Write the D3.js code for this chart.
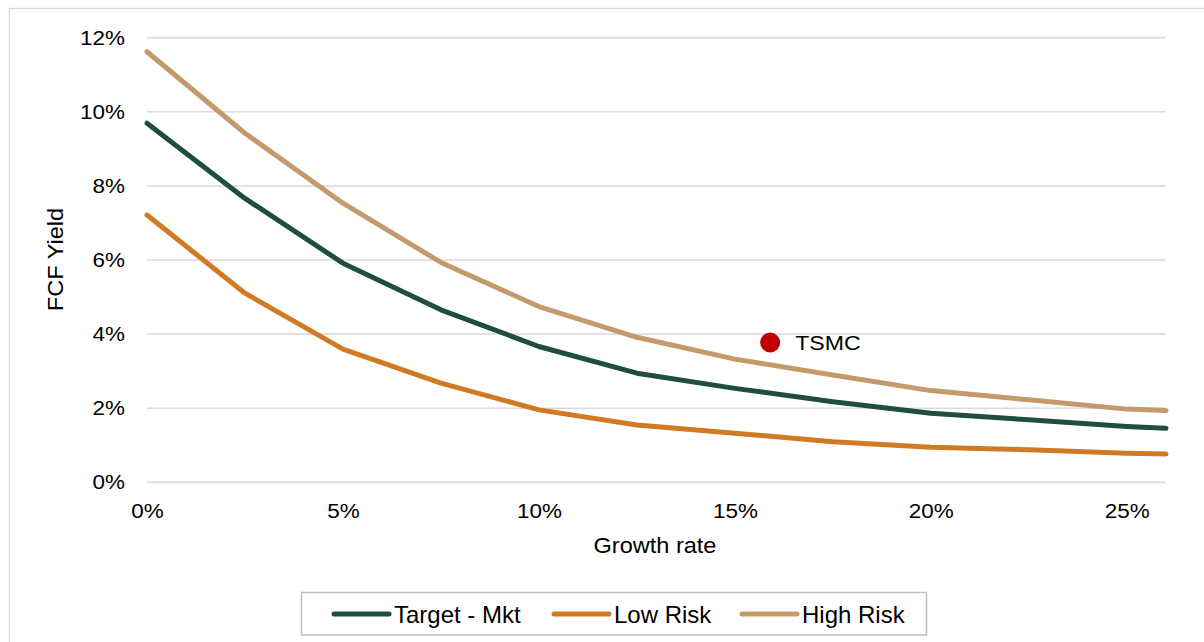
<!DOCTYPE html>
<html>
<head>
<meta charset="utf-8">
<script src="https://cdn.jsdelivr.net/npm/d3@7"></script>
<style>
  body { margin: 0; background: #fff; }
  svg { display: block; font-family: "Liberation Sans", Arial, sans-serif; }
</style>
</head>
<body>
<div id="wrapper"></div>
<script>
// growth rate (%) on x, FCF yield (%) on y
const growth = [0, 2.5, 5, 7.5, 10, 12.5, 15, 17.5, 20, 22.5, 25, 26];
const targetMkt = [9.68, 7.65, 5.90, 4.64, 3.65, 2.93, 2.52, 2.16, 1.85, 1.67, 1.49, 1.44];
const lowRisk = [7.20, 5.09, 3.58, 2.66, 1.94, 1.53, 1.31, 1.08, 0.93, 0.86, 0.77, 0.75];
const highRisk = [11.61, 9.41, 7.52, 5.92, 4.73, 3.90, 3.31, 2.88, 2.46, 2.21, 1.96, 1.92];
const seriesNames = ["Target - Mkt", "Low Risk", "High Risk"];
const xTicks = [0, 5, 10, 15, 20, 25];
const yTicks = [0, 2, 4, 6, 8, 10, 12];
const tsmc = { name: "TSMC", x: 15.9, y: 3.76 };

const colors = ["#1f4d40", "#d07a24", "#c49a6c"];

let dimensions = {
  width: 1204,
  height: 642,
  margin: { top: 37.3, right: 38, bottom: 160.3, left: 147 },
};
dimensions.boundedWidth = dimensions.width - dimensions.margin.left - dimensions.margin.right;
dimensions.boundedHeight = dimensions.height - dimensions.margin.top - dimensions.margin.bottom;

const svg = d3.select("#wrapper").append("svg")
  .attr("width", dimensions.width)
  .attr("height", dimensions.height);

// text in the original is a bit wider than plain Arial
function placeText(parent, x, y, str, size, sx, extra) {
  return parent.append("text")
    .attr("transform", `translate(${x},${y}) ${extra || ""} scale(${sx},1)`)
    .attr("font-size", size)
    .attr("fill", "#000")
    .text(str);
}

// outer chart frame (runs off right & bottom edges)
svg.append("rect")
  .attr("x", 9.5).attr("y", 8.5)
  .attr("width", 1220).attr("height", 660)
  .attr("fill", "#fff")
  .attr("stroke", "#d9d9d9")
  .attr("stroke-width", 1.3);

const bounds = svg.append("g")
  .attr("transform", `translate(${dimensions.margin.left},${dimensions.margin.top})`);

const xScale = d3.scaleLinear().domain([0, 26]).range([0, dimensions.boundedWidth]);
const yScale = d3.scaleLinear().domain([0, 12]).range([dimensions.boundedHeight, 0]);

const tickSx = 1.07;

// gridlines + y labels
const yAxis = bounds.append("g")
  .call(d3.axisLeft(yScale).tickValues(yTicks).tickSize(-dimensions.boundedWidth).tickFormat(d => d + "%"));
yAxis.select(".domain").remove();
yAxis.selectAll(".tick line").attr("stroke", "#d9d9d9").attr("stroke-width", 1.5);
yAxis.selectAll(".tick text")
  .attr("font-size", 21).attr("fill", "#000")
  .attr("font-family", "Liberation Sans, Arial, sans-serif")
  .attr("x", -22 / tickSx)
  .attr("transform", `scale(${tickSx},1)`);

const xAxis = bounds.append("g")
  .attr("transform", `translate(0,${dimensions.boundedHeight})`)
  .call(d3.axisBottom(xScale).tickValues(xTicks).tickSize(0).tickFormat(d => d + "%").tickPadding(21));
xAxis.select(".domain").remove();
xAxis.selectAll(".tick text")
  .attr("font-size", 21).attr("fill", "#000")
  .attr("font-family", "Liberation Sans, Arial, sans-serif")
  .attr("transform", `scale(${tickSx},1)`);

// lines
const allSeries = [targetMkt, lowRisk, highRisk];
const lineGenerator = d3.line()
  .x((d, i) => xScale(growth[i]))
  .y(d => yScale(d));

[2, 0, 1].forEach(k => {
  bounds.append("path")
    .attr("d", lineGenerator(allSeries[k]))
    .attr("fill", "none")
    .attr("stroke", colors[k])
    .attr("stroke-width", 5)
    .attr("stroke-linejoin", "round")
    .attr("stroke-linecap", "round");
});

// TSMC marker
bounds.append("circle")
  .attr("cx", xScale(tsmc.x))
  .attr("cy", yScale(tsmc.y))
  .attr("r", 10)
  .attr("fill", "#c00000");
placeText(bounds, xScale(tsmc.x) + 25, yScale(tsmc.y), tsmc.name, 21, 1.1)
  .attr("dy", "0.35em");

// axis titles
placeText(svg, 63, dimensions.margin.top + dimensions.boundedHeight / 2, "FCF Yield", 22, 1.07, "rotate(-90)")
  .attr("text-anchor", "middle");

placeText(svg, 655, 553, "Growth rate", 22, 1.07)
  .attr("text-anchor", "middle");

// legend
const legend = svg.append("g");
legend.append("rect")
  .attr("x", 301.5).attr("y", 592.5)
  .attr("width", 625).attr("height", 42.5)
  .attr("fill", "#fff")
  .attr("stroke", "#bfbfbf")
  .attr("stroke-width", 1.5);

const legendX = [334, 554, 742];
seriesNames.forEach((name, i) => {
  legend.append("line")
    .attr("x1", legendX[i]).attr("x2", legendX[i] + 55)
    .attr("y1", 614).attr("y2", 614)
    .attr("stroke", colors[i])
    .attr("stroke-width", 5)
    .attr("stroke-linecap", "round");
  placeText(legend, legendX[i] + 60, 614, name, 24, 1.0)
    .attr("dy", "0.36em");
});
</script>
</body>
</html>
